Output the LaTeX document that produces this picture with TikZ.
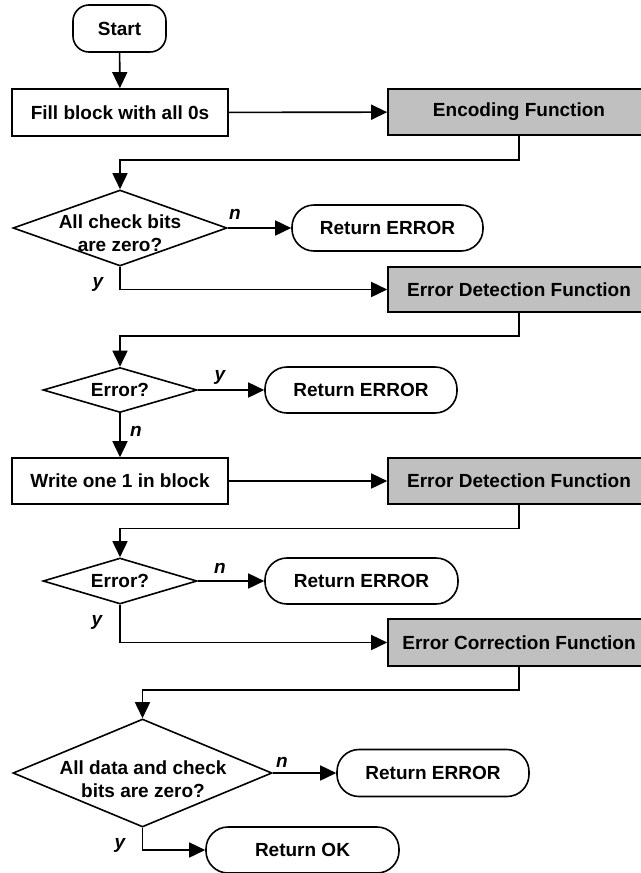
\documentclass[tikz,border=0pt]{standalone}
\usepackage{fontspec}
\setmainfont{Liberation Sans}
\usetikzlibrary{arrows.meta,shapes.geometric}
\definecolor{boxgray}{RGB}{192,192,192}
\begin{document}
\begin{tikzpicture}[x=0.5pt,y=-0.5pt,
  font=\fontsize{9.5}{11.5}\selectfont\bfseries,
  line width=0.8pt,
  arr/.style={-{Triangle[length=8pt,width=7.5pt]}},
  term/.style={draw, rounded corners=11pt, minimum width=#1, minimum height=23pt, inner sep=0pt},
  proc/.style={draw, minimum width=108pt, minimum height=23.5pt, inner sep=0pt},
  func/.style={draw, fill=boxgray, minimum width=131pt, minimum height=23pt, inner sep=0pt},
  dec/.style={draw, diamond, inner sep=0pt, aspect=1},
  txt/.style={align=center, inner sep=0pt},
  lbl/.style={font=\fontsize{9.5}{11.5}\selectfont\bfseries\itshape, inner sep=0pt}
]
\useasboundingbox (0,0) rectangle (641,873);

% nodes
\node[term=46.5pt, rounded corners=8pt, minimum height=23.5pt] (start) at (119.5,28.5) {Start};
\node[proc] (fill) at (120,112.5) {Fill block with all 0s};
\node[func] (enc) at (519,112) {Encoding Function};

\node[dec, minimum width=107pt, minimum height=38pt] (d1) at (120,228) {};
\node[txt] (t1) at (120,233) {All check bits\\are zero?};
\node[term=95.5pt] (ret1) at (387.5,228) {Return ERROR};
\node[func, minimum height=22.5pt] (det1) at (519,289.5) {Error Detection Function};

\node[dec, minimum width=77pt, minimum height=22.5pt] (d2) at (120,390) {};
\node[txt] (t2) at (120,390) {Error?};
\node[term=96pt] (ret2) at (361,390) {Return ERROR};

\node[proc, minimum height=23pt] (write) at (120,481) {Write one 1 in block};
\node[func] (det2) at (519,481) {Error Detection Function};

\node[dec, minimum width=77pt, minimum height=23pt] (d3) at (120,581) {};
\node[txt] (t3) at (120,581) {Error?};
\node[term=96.5pt] (ret3) at (361.5,581) {Return ERROR};
\node[func, minimum height=23.5pt] (ecf) at (519,642.5) {Error Correction Function};

\node[dec, minimum width=129.5pt, minimum height=54pt] (d4) at (142.5,773) {};
\node[txt] (t4) at (143,779) {All data and check\\bits are zero?};
\node[term=96pt, minimum height=23.5pt] (ret4) at (433,773) {Return ERROR};
\node[term=96.5pt] (ok) at (302.5,850) {Return OK};

% labels
\node[lbl] (n1) at (235,214) {n};
\node[lbl] (y1) at (98,284) {y};
\node[lbl] (y2) at (220,377) {y};
\node[lbl] (n2) at (136,431) {n};
\node[lbl] (n3) at (220,568) {n};
\node[lbl] (y3) at (97,622) {y};
\node[lbl] (n4) at (282,762) {n};
\node[lbl] (y4) at (120,845) {y};

% connectors
\draw[arr] (start) -- (fill);
\draw[arr] (fill) -- (enc);
\draw[arr] (enc.south) -- ++(0,24) -| (d1.north);
\draw[arr] (d1.east) -- (ret1.west);
\draw[arr] (d1.south) |- (det1.west);
\draw[arr] (det1.south) -- ++(0,23) -| (d2.north);
\draw[arr] (d2.east) -- (ret2.west);
\draw[arr] (d2.south) -- (write.north);
\draw[arr] (write) -- (det2);
\draw[arr] (det2.south) -- ++(0,23.5) -| (d3.north);
\draw[arr] (d3.east) -- (ret3.west);
\draw[arr] (d3.south) |- (ecf.west);
\draw[arr] (ecf.south) -- ++(0,23) -| (d4.north);
\draw[arr] (d4.east) -- (ret4.west);
\draw[arr] (d4.south) |- (ok.west);
\end{tikzpicture}
\end{document}
